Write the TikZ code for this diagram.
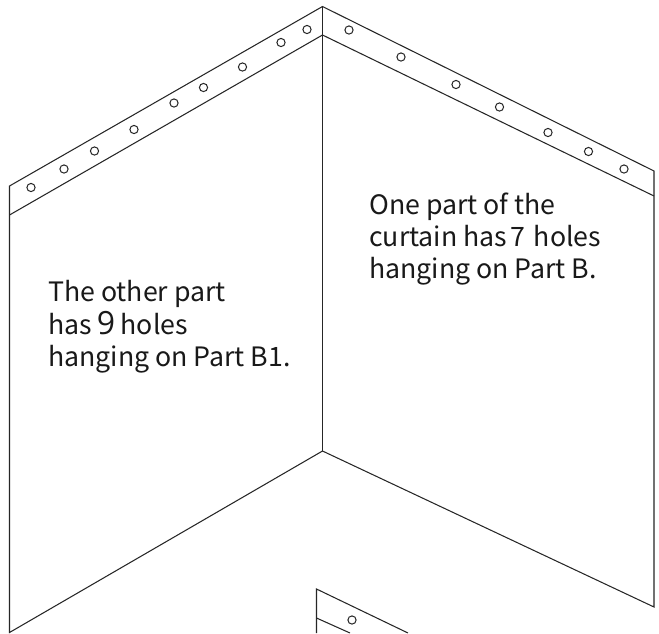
\documentclass[tikz,border=0pt]{standalone}
\usepackage{fontspec}
\setmainfont{Noto Sans CJK SC}
\newfontfamily\digitfont{Open Sans}
\tikzset{
  edge/.style={draw=black!85,line width=1.05pt,line join=miter},
  hole/.style={circle,draw=black!85,line width=1pt,minimum size=8.2pt,inner sep=0pt},
  label/.style={anchor=base west,inner sep=0pt,text=black!90,font=\fontsize{26.7}{26.7}\selectfont}
}
\begin{document}
\begin{tikzpicture}[x=1pt,y=-1pt]
\useasboundingbox (0,0) rectangle (659,633);
\fill[white] (0,0) rectangle (659,633);
\coordinate (lt) at (9.5,186);
\coordinate (lb) at (9.5,215);
\coordinate (at) at (322.5,6.5);
\coordinate (ab) at (322.5,35);
\coordinate (rt) at (654,171);
\coordinate (rb) at (654,196);
\coordinate (bm) at (322.5,451);
\coordinate (bl) at (9.5,632.5);
\coordinate (br) at (654,607);
\coordinate (st) at (316.5,589);
\coordinate (sb) at (316.5,618);
\coordinate (se) at (316.5,633);
\coordinate (sa) at (408,633);
\coordinate (sc) at (350,633);
\draw[edge] (bl) -- (lt) -- (at) -- (rt) -- (br) -- (bm) -- cycle;
\draw[edge] (lb) -- (ab) -- (rb);
\draw[edge] (at) -- (bm);
\draw[edge] (se) -- (st) -- (sa);
\draw[edge] (sb) -- (sc);
\foreach \n/\x/\y in {a/31/187.5,b/64/169,c/94.5/151,d/134/129.5,e/174/103,f/203.5/87.5,g/242.5/67,h/281/42.5,i/307/29.5,
  j/349/30,k/401/57,l/456/84.5,m/499.5/107,n/548/132.5,o/588.5/151.5,p/624/169,q/352/620}
  \node[hole] (h\n) at (\x,\y) {};
\node[label] (r1) at (369,214.3) {One part of the};
\node[label] (r2) at (369,246.3) {curtain has\hspace{-2.5pt} 7\hspace{2.5pt} holes};
\node[label] (r3) at (369,278) {hanging on Part B.};
\node[label] (l1) at (48,301.7) {The other part};
\node[label] (l2) at (48,334) {has\hspace{-1pt} {\digitfont\fontsize{32}{32}\selectfont 9}\hspace{-0.5pt} holes};
\node[label] (l3) at (48,366.3) {hanging on Part B1.};
\end{tikzpicture}
\end{document}
